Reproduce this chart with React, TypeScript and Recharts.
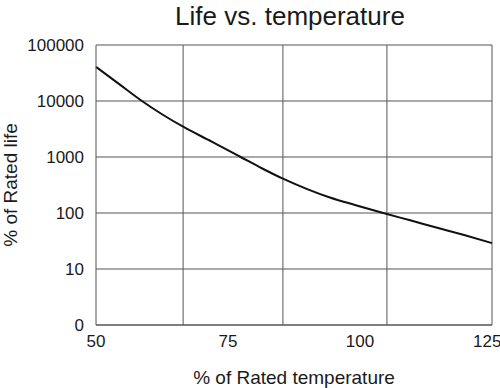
import { LineChart, Line, XAxis, YAxis, CartesianGrid, ReferenceLine, Label } from 'recharts'

// % of rated temperature
const temps = [50, 54.4, 58.7, 62.5, 66.5, 72, 77.4, 81.4, 85.4, 90, 94.3, 99.2, 104.4, 109.5, 114.8, 119.9, 125]
// % of rated life
const life = [40700, 20000, 10000, 5800, 3470, 1860, 1000, 630, 410, 267, 189, 138, 100, 74, 54, 40, 29]

const xTicks = [50, 75, 100, 125]
const yTicks = [1, 10, 100, 1000, 10000, 100000]
const gridX = [66.5, 85.4, 105.1, 125]

const data = temps.map((t, i) => ({ temp: t, life: life[i] }))

const font = '"Liberation Sans", Arial, sans-serif'

export default function App() {
  return (
    <div style={{ position: 'absolute', left: 0, top: 0, width: 500, height: 388, fontFamily: font, background: '#fff' }}>
      <LineChart width={500} height={388} data={data} margin={{ top: 45, right: 8, bottom: 0, left: 0 }}>
        <CartesianGrid vertical={false} stroke="#555" strokeWidth={1} />
        {gridX.map((x) => (
          <ReferenceLine key={x} x={x} stroke="#555" strokeWidth={1} ifOverflow="extendDomain" />
        ))}
        <XAxis
          dataKey="temp"
          type="number"
          domain={[50, 125]}
          ticks={xTicks}
          height={63}
          tickLine={false}
          tickMargin={4}
          axisLine={{ stroke: '#555' }}
          tick={{ fill: '#1a1a1a', fontSize: 17, fontFamily: font }}
        >
          <Label
            value="% of Rated temperature"
            position="insideBottom"
            offset={4}
            style={{ fill: '#1a1a1a', fontSize: 19, fontFamily: font }}
          />
        </XAxis>
        <YAxis
          scale="log"
          type="number"
          domain={[1, 100000]}
          ticks={yTicks}
          width={96}
          tickLine={false}
          tickMargin={6}
          axisLine={{ stroke: '#555' }}
          tick={{ fill: '#1a1a1a', fontSize: 17, fontFamily: font }}
          tickFormatter={(v: number) => (v === 1 ? '0' : String(v))}
          allowDataOverflow
        >
          <Label
            value="% of Rated life"
            angle={-90}
            position="insideLeft"
            offset={10}
            style={{ fill: '#1a1a1a', fontSize: 19, fontFamily: font, textAnchor: 'middle' }}
          />
        </YAxis>
        <Line
          type="monotone"
          dataKey="life"
          stroke="#111"
          strokeWidth={2}
          dot={false}
          isAnimationActive={false}
        />
      </LineChart>
      <div
        style={{
          position: 'absolute',
          left: 90,
          top: 2,
          width: 400,
          textAlign: 'center',
          fontSize: 26,
          lineHeight: '28px',
          color: '#1a1a1a',
        }}
      >
        Life vs. temperature
      </div>
    </div>
  )
}
